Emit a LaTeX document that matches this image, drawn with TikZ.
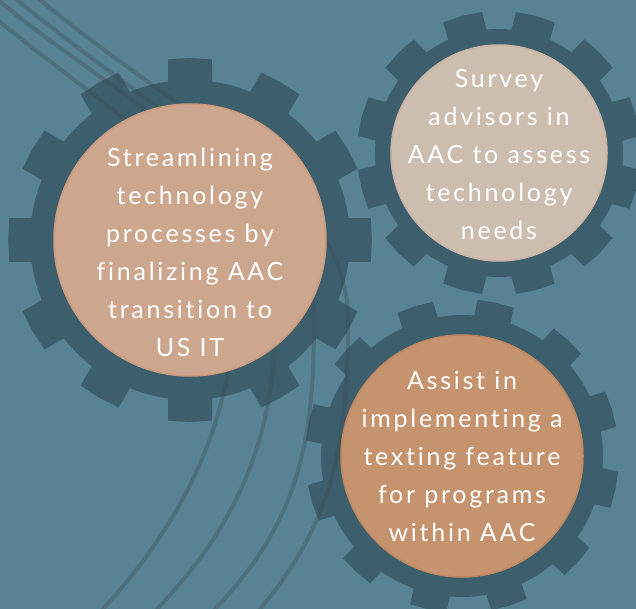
\documentclass[tikz,border=0pt]{standalone}
\usepackage{fontspec}
\setmainfont{Lato}[LetterSpace=11, Ligatures={NoCommon,NoRare,NoContextual}]
\definecolor{bgc}{RGB}{88,131,148}
\definecolor{gearc}{RGB}{30,50,60}
\definecolor{linec}{RGB}{60,75,80}
\definecolor{cA}{RGB}{225,178,146}
\definecolor{cAd}{RGB}{200,155,125}
\definecolor{cB}{RGB}{225,203,185}
\definecolor{cBd}{RGB}{200,180,164}
\definecolor{cC}{RGB}{216,155,110}
\definecolor{cCd}{RGB}{190,135,95}
\tikzset{
  gearfill/.style={fill=gearc, fill opacity=0.45},
  swoosh/.style={draw=linec, line width=4pt, draw opacity=0.35},
  disc/.style={circle, inner sep=0pt, fill opacity=0.88, line width=1.5pt},
  label/.style={text=white, align=center, font=\fontsize{25}{38}\selectfont},
}
\newcommand{\drawgear}[6]{%
  \pgfmathsetmacro{\gHb}{asin(#5/#3)}%
  \pgfmathsetmacro{\gHt}{asin(#5/#4)}%
  \pgfmathsetmacro{\gGap}{(30-2*\gHb)/4}%
  \begin{scope}[shift={(#1,#2)}]
  \fill[gearfill] ({#6-\gHb}:#3) \foreach \k in {0,...,11}{
     -- ({#6+30*\k-\gHb}:#3) -- ({#6+30*\k-\gHt}:#4) -- ({#6+30*\k}:#4)
     -- ({#6+30*\k+\gHt}:#4) -- ({#6+30*\k+\gHb}:#3)
     -- ({#6+30*\k+\gHb+\gGap}:#3) -- ({#6+30*\k+\gHb+2*\gGap}:#3)
     -- ({#6+30*\k+\gHb+3*\gGap}:#3)
  } -- cycle;
  \end{scope}}
\begin{document}
\begin{tikzpicture}[x=1pt,y=-1pt]
\useasboundingbox (0,0) rectangle (636,609);
\clip (0,0) rectangle (636,609);
\fill[bgc] (0,0) rectangle (636,609);
% gears
\drawgear{190}{240}{160}{182}{22}{0}
\drawgear{499}{153}{124}{142}{20}{15}
\drawgear{462}{456}{141}{157}{18.5}{12.5}
% swoosh lines
\draw[swoosh] (-12,12) .. controls (115,118) and (236,180) .. (236,280)
   .. controls (236,380) and (212,490) .. (103,609) -- (90,625);
\draw[swoosh] (-12,-8) .. controls (130,110) and (276,170) .. (276,300)
   .. controls (276,400) and (262,500) .. (157,609) -- (145,625);
\draw[swoosh] (5,-10) .. controls (160,120) and (314,190) .. (314,320)
   .. controls (314,440) and (300,520) .. (215,609) -- (203,625);
\draw[swoosh] (28,-10) .. controls (194,129) and (348,190) .. (348,320)
   .. controls (348,440) and (335,520) .. (260,609) -- (248,625);
% discs
\node[disc, fill=cA, draw=cAd, minimum size=272pt] (d1) at (190,240) {};
\node[disc, fill=cB, draw=cBd, minimum size=216pt] (d2) at (499,153) {};
\node[disc, fill=cC, draw=cCd, minimum size=242pt] (d3) at (462,456) {};
% texts
\node[label] (t1) at (190,252) {Streamlining\\technology\\processes by\\finalizing AAC\\transition to\\US IT};
\node[label] (t2) at (499,155) {Survey\\advisors in\\AAC to assess\\technology\\needs};
\node[label] (t3) at (462,456) {Assist in\\implementing a\\texting feature\\for programs\\within AAC};
\end{tikzpicture}
\end{document}
